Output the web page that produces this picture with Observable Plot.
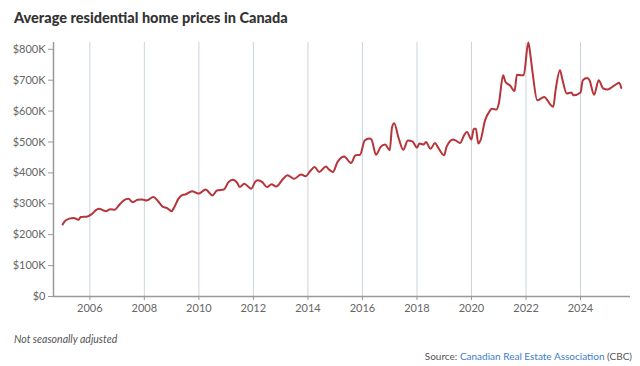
<!DOCTYPE html>
<html>
<head>
<meta charset="utf-8">
<script src="https://cdn.jsdelivr.net/npm/d3@7"></script>
<script src="https://cdn.jsdelivr.net/npm/@observablehq/plot@0.6"></script>
<style>
  body { margin: 0; background: #fff; width: 640px; height: 366px; overflow: hidden; position: relative; }
  #title { position: absolute; left: 14px; top: 9px; font: 900 14.5px Lato, sans-serif; color: #333; white-space: nowrap; }
  #chart { position: absolute; left: 0; top: 36px; }
  #note { position: absolute; left: 14px; top: 333px; font: italic 10.5px Lato, sans-serif; color: #555; }
  #source { position: absolute; right: 8px; top: 350px; font: 10px Lato, sans-serif; color: #555; white-space: nowrap; }
  #source span { color: #3d7cc9; }
</style>
</head>
<body>
<div id="title">Average residential home prices in Canada</div>
<div id="chart"></div>
<div id="note">Not seasonally adjusted</div>
<div id="source">Source: <span>Canadian Real Estate Association</span> (CBC)</div>
<script>
// Month of observation (YYYY-MM) and average price in thousands of dollars
const months = [
  "2005-01","2005-02","2005-04","2005-06","2005-08","2005-09","2005-12",
  "2006-02","2006-04","2006-05","2006-08","2006-10","2006-12",
  "2007-02","2007-04","2007-06","2007-08","2007-10","2007-12",
  "2008-02","2008-05","2008-07","2008-09","2008-11",
  "2009-01","2009-02","2009-04","2009-06","2009-07","2009-10","2009-12",
  "2010-01","2010-04","2010-05","2010-07","2010-09","2010-12",
  "2011-02","2011-04","2011-06","2011-07","2011-09","2011-12",
  "2012-02","2012-03","2012-05","2012-07","2012-09","2012-11",
  "2013-02","2013-04","2013-07","2013-10","2013-12",
  "2014-02","2014-04","2014-06","2014-09","2014-10","2014-12",
  "2015-02","2015-04","2015-05","2015-08","2015-10","2015-12",
  "2016-02","2016-04","2016-05","2016-07","2016-09","2016-11",
  "2017-01","2017-02","2017-03","2017-05","2017-07","2017-09","2017-11",
  "2018-01","2018-02","2018-04","2018-05","2018-07","2018-09","2018-10",
  "2019-01","2019-02","2019-05","2019-06","2019-08","2019-10","2019-11",
  "2020-01","2020-02","2020-03","2020-04","2020-05","2020-07","2020-09","2020-10","2020-12",
  "2021-01","2021-03","2021-04","2021-06","2021-08","2021-09","2021-11","2021-12",
  "2022-02","2022-03","2022-04","2022-06","2022-09","2022-12",
  "2023-01","2023-02","2023-04","2023-05","2023-07","2023-09","2023-10",
  "2024-01","2024-02","2024-04","2024-05","2024-07","2024-09","2024-11",
  "2025-01","2025-03","2025-05","2025-06","2025-07"
];
const pricesK = [
  233,244,252,254,248,257,259,
  268,281,284,276,282,281,
  297,311,316,305,313,314,
  311,322,309,291,286,
  276,287,316,329,330,341,335,
  333,346,341,327,343,346,
  370,378,367,354,365,349,
  373,376,370,354,363,356,
  380,392,381,395,389,
  406,419,403,421,413,403,
  435,451,453,432,457,459,
  505,511,508,459,484,492,
  473,548,561,512,475,505,502,
  482,495,492,500,478,497,486,
  457,484,508,505,497,525,532,
  508,543,543,495,505,570,600,608,605,
  624,716,694,683,665,718,716,716,
  822,781,721,635,646,619,
  614,667,732,705,657,660,651,
  660,700,707,700,653,700,673,
  670,678,688,692,675
];
const yTicks = [0, 100, 200, 300, 400, 500, 600, 700, 800];
const xTickYears = [2006, 2008, 2010, 2012, 2014, 2016, 2018, 2020, 2022, 2024];

const data = months.map((m, i) => ({ date: new Date(m + "-01T00:00:00Z"), price: pricesK[i] * 1000 }));
const xTicks = xTickYears.map(y => new Date(Date.UTC(y, 0, 1)));
const xStart = new Date(Date.UTC(2004, 8, 1));
const xEnd = new Date(Date.UTC(2025, 10, 1));

const chart = Plot.plot({
  width: 640,
  height: 286,
  marginLeft: 53,
  marginRight: 10,
  marginTop: 6,
  marginBottom: 26,
  style: { fontFamily: "Lato, sans-serif", fontSize: "11px", color: "#666", background: "white" },
  x: { type: "utc", domain: [xStart, xEnd], label: null },
  y: { domain: [0, d3.max(data, d => d.price)], label: null },
  marks: [
    Plot.gridX(xTicks, { stroke: "#c9d3dc", strokeOpacity: 1, strokeWidth: 1 }),
    Plot.axisX(xTicks, { tickFormat: d3.utcFormat("%Y"), tickSize: 4, tickPadding: 4, stroke: "#999", fill: "#666" }),
    Plot.axisY(yTicks.map(v => v * 1000), { tickFormat: d => d === 0 ? "$0" : `$${d / 1000}K`, tickSize: 5, tickPadding: 3, stroke: "#999", fill: "#666" }),
    Plot.ruleY([0], { stroke: "#999", strokeWidth: 1.5 }),
    Plot.ruleX([xStart], { stroke: "#999", strokeWidth: 1.5 }),
    Plot.lineY(data, { x: "date", y: "price", stroke: "#b5353a", strokeWidth: 2, curve: "monotone-x" })
  ]
});
document.getElementById("chart").appendChild(chart);
</script>
</body>
</html>
